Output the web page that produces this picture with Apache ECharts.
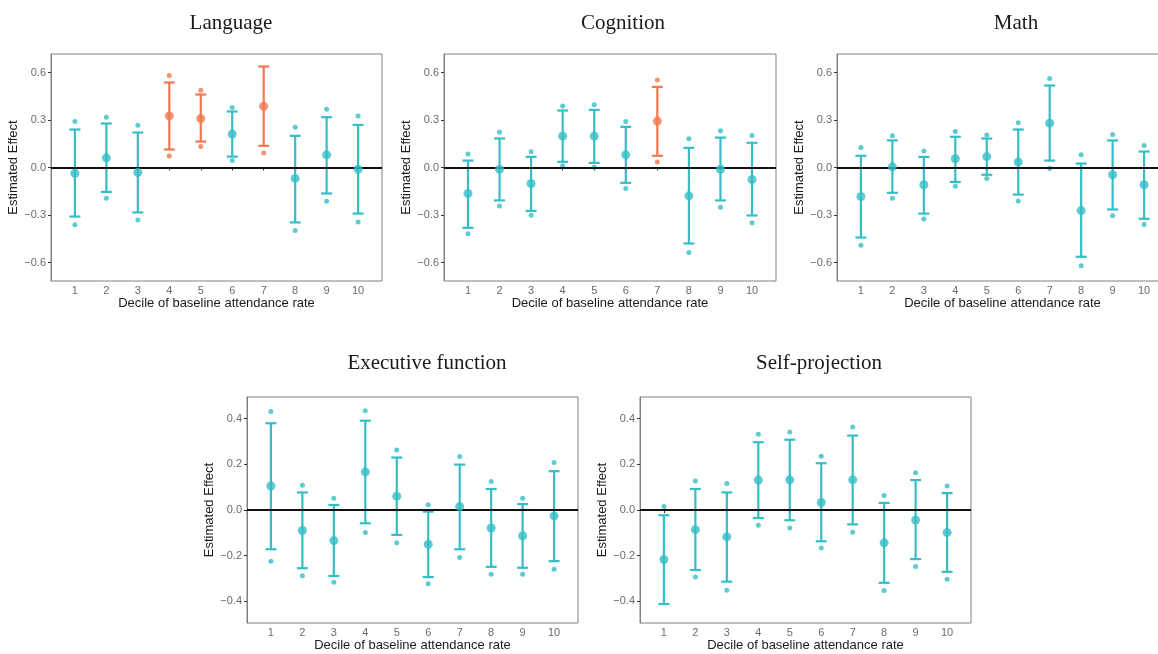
<!DOCTYPE html>
<html>
<head>
    <meta charset="utf-8">
    <title>Estimated effect by decile</title>
    <style>
        html, body { margin: 0; padding: 0; background: #fff; }
        #main { width: 1158px; height: 654px; }
    </style>
</head>
<body>
    <div id="main"></div>
    <script src="https://cdn.jsdelivr.net/npm/echarts@6/dist/echarts.min.js"></script>
    <script type="text/javascript">

        const DECILES = [1, 2, 3, 4, 5, 6, 7, 8, 9, 10];
        const TITLES = ['Language', 'Cognition', 'Math', 'Executive function', 'Self-projection'];
        const Y_TICKS_TOP = [-0.6, -0.3, 0, 0.3, 0.6];
        const Y_TICKS_BOTTOM = [-0.4, -0.2, 0, 0.2, 0.4];

        // point estimates
        const EST_LANGUAGE = [-0.036, 0.061, -0.032, 0.326, 0.309, 0.211, 0.387, -0.069, 0.080, -0.011];
        const EST_COGNITION = [-0.164, -0.011, -0.101, 0.198, 0.198, 0.080, 0.293, -0.179, -0.011, -0.076];
        const EST_MATH = [-0.183, 0.004, -0.109, 0.055, 0.069, 0.034, 0.280, -0.272, -0.046, -0.109];
        const EST_EXEC = [0.105, -0.090, -0.134, 0.167, 0.060, -0.150, 0.015, -0.079, -0.113, -0.026];
        const EST_SELF = [-0.217, -0.086, -0.118, 0.131, 0.132, 0.033, 0.132, -0.144, -0.044, -0.099];

        // error bar ends (lower, upper)
        const LO_LANGUAGE = [-0.310, -0.154, -0.284, 0.114, 0.164, 0.069, 0.137, -0.347, -0.164, -0.291];
        const HI_LANGUAGE = [0.240, 0.278, 0.221, 0.537, 0.461, 0.354, 0.638, 0.200, 0.318, 0.269];
        const LO_COGNITION = [-0.381, -0.208, -0.274, 0.036, 0.029, -0.097, 0.074, -0.480, -0.208, -0.303];
        const HI_COGNITION = [0.044, 0.183, 0.067, 0.360, 0.364, 0.257, 0.509, 0.124, 0.189, 0.156];
        const LO_MATH = [-0.442, -0.160, -0.291, -0.091, -0.046, -0.171, 0.044, -0.564, -0.265, -0.324];
        const HI_MATH = [0.074, 0.171, 0.067, 0.194, 0.183, 0.240, 0.518, 0.025, 0.171, 0.101];
        const LO_EXEC = [-0.172, -0.255, -0.289, -0.058, -0.109, -0.294, -0.172, -0.249, -0.253, -0.224];
        const HI_EXEC = [0.380, 0.077, 0.022, 0.391, 0.230, -0.007, 0.199, 0.092, 0.026, 0.170];
        const LO_SELF = [-0.412, -0.263, -0.314, -0.035, -0.045, -0.137, -0.063, -0.319, -0.215, -0.271];
        const HI_SELF = [-0.023, 0.092, 0.077, 0.297, 0.308, 0.205, 0.326, 0.031, 0.131, 0.074];

        // small outer dots (lower, upper); null where no dot is drawn
        const DLO_LANGUAGE = [-0.362, -0.194, -0.331, 0.072, 0.133, 0.044, 0.091, -0.398, -0.213, -0.345];
        const DHI_LANGUAGE = [0.290, 0.318, 0.267, 0.581, 0.488, 0.379, null, 0.255, 0.368, 0.326];
        const DLO_COGNITION = [-0.419, -0.244, -0.301, 0.011, 0.002, -0.133, 0.034, -0.537, -0.251, -0.349];
        const DHI_COGNITION = [0.086, 0.223, 0.099, 0.389, 0.396, 0.291, 0.552, 0.181, 0.232, 0.202];
        const DLO_MATH = [-0.491, -0.194, -0.326, -0.118, -0.069, -0.211, -0.004, -0.621, -0.305, -0.360];
        const DHI_MATH = [0.126, 0.200, 0.105, 0.227, 0.206, 0.282, 0.562, 0.080, 0.208, 0.139];
        const DLO_EXEC = [-0.224, -0.288, -0.316, -0.099, -0.144, -0.323, -0.208, -0.281, -0.281, -0.260];
        const DHI_EXEC = [0.432, 0.108, 0.051, 0.435, 0.263, 0.023, 0.234, 0.125, 0.052, 0.208];
        const DLO_SELF = [null, -0.294, -0.352, -0.067, -0.079, -0.167, -0.097, -0.353, -0.247, -0.303];
        const DHI_SELF = [0.015, 0.127, 0.116, 0.332, 0.342, 0.236, 0.364, 0.064, 0.163, 0.105];

        // deciles drawn in orange
        const HL_LANGUAGE = [4, 5, 7];
        const HL_COGNITION = [7];
        const HL_MATH = [];
        const HL_EXEC = [];
        const HL_SELF = [];

        const TEAL = '#35BEC5';
        const ORANGE = '#F1784F';

        const PANELS = [
            {est: EST_LANGUAGE, lo: LO_LANGUAGE, hi: HI_LANGUAGE, dlo: DLO_LANGUAGE, dhi: DHI_LANGUAGE, hl: HL_LANGUAGE,
             left: 51, top: 54, width: 331, height: 227, ymax: 0.717, ticks: Y_TICKS_TOP, tx: 226, ty: 8},
            {est: EST_COGNITION, lo: LO_COGNITION, hi: HI_COGNITION, dlo: DLO_COGNITION, dhi: DHI_COGNITION, hl: HL_COGNITION,
             left: 444, top: 54, width: 332, height: 227, ymax: 0.717, ticks: Y_TICKS_TOP, tx: 618, ty: 8},
            {est: EST_MATH, lo: LO_MATH, hi: HI_MATH, dlo: DLO_MATH, dhi: DHI_MATH, hl: HL_MATH,
             left: 837, top: 54, width: 331, height: 227, ymax: 0.717, ticks: Y_TICKS_TOP, tx: 1011, ty: 8},
            {est: EST_EXEC, lo: LO_EXEC, hi: HI_EXEC, dlo: DLO_EXEC, dhi: DHI_EXEC, hl: HL_EXEC,
             left: 247, top: 397, width: 331, height: 226, ymax: 0.495, ticks: Y_TICKS_BOTTOM, tx: 422, ty: 348},
            {est: EST_SELF, lo: LO_SELF, hi: HI_SELF, dlo: DLO_SELF, dhi: DHI_SELF, hl: HL_SELF,
             left: 640, top: 397, width: 331, height: 226, ymax: 0.495, ticks: Y_TICKS_BOTTOM, tx: 814, ty: 348},
        ];

        function fmtTick(v) {
            const s = Math.abs(v).toFixed(1);
            return v < 0 ? '\u2212' + s : s;
        }

        function renderBar(params, api) {
            const x = api.value(0);
            const a = api.coord([x, api.value(1)]);
            const b = api.coord([x, api.value(2)]);
            const color = api.value(3) ? ORANGE : TEAL;
            const half = 5.5;
            const st = {stroke: color, lineWidth: 2.2};
            return {
                type: 'group',
                children: [
                    {type: 'line', shape: {x1: a[0], y1: a[1], x2: b[0], y2: b[1]}, style: st},
                    {type: 'line', shape: {x1: a[0] - half, y1: a[1], x2: a[0] + half, y2: a[1]}, style: st},
                    {type: 'line', shape: {x1: b[0] - half, y1: b[1], x2: b[0] + half, y2: b[1]}, style: st},
                ]
            };
        }

        const grids = [], xAxes = [], yAxes = [], series = [], titles = [];
        const FONT = 'Liberation Sans';

        PANELS.forEach(function (p, i) {
            grids.push({
                left: p.left, top: p.top, width: p.width, height: p.height,
                outerBoundsMode: 'none', containLabel: false,
                show: true, borderColor: '#808080', borderWidth: 1, backgroundColor: 'transparent'
            });
            xAxes.push({
                gridIndex: i, type: 'value', min: 0.24, max: 10.76,
                name: 'Decile of baseline attendance rate', nameLocation: 'middle', nameGap: 16,
                nameTextStyle: {fontFamily: FONT, fontSize: 13, color: '#1a1a1a'},
                axisLine: {show: true, lineStyle: {color: '#808080'}},
                axisTick: {show: true, length: 3, customValues: DECILES, lineStyle: {color: '#333'}},
                axisLabel: {customValues: DECILES, margin: 4, fontFamily: FONT, fontSize: 11, color: '#6b6b6b'},
                splitLine: {show: false}
            });
            yAxes.push({
                gridIndex: i, type: 'value', min: -p.ymax, max: p.ymax,
                name: 'Estimated Effect', nameLocation: 'middle', nameGap: 28, nameRotate: 90,
                nameTextStyle: {fontFamily: FONT, fontSize: 13, color: '#1a1a1a'},
                axisLine: {show: true, lineStyle: {color: '#808080'}},
                axisTick: {show: true, length: 3, customValues: p.ticks, lineStyle: {color: '#333'}},
                axisLabel: {customValues: p.ticks, formatter: fmtTick, margin: 5, fontFamily: FONT, fontSize: 11, color: '#6b6b6b'},
                splitLine: {show: false}
            });
            titles.push({
                text: TITLES[i], left: p.tx, top: p.ty, textAlign: 'center',
                textStyle: {fontFamily: 'Liberation Serif', fontWeight: 'normal', fontSize: 21, color: '#1a1a1a'}
            });

            const bars = [], points = [], dots = [];
            DECILES.forEach(function (d, k) {
                const hl = p.hl.includes(d);
                const c = hl ? ORANGE : TEAL;
                bars.push([d, p.lo[k], p.hi[k], hl ? 1 : 0]);
                points.push({value: [d, p.est[k]], itemStyle: {color: c}});
                if (p.dlo[k] !== null) dots.push({value: [d, p.dlo[k]], itemStyle: {color: c}});
                if (p.dhi[k] !== null) dots.push({value: [d, p.dhi[k]], itemStyle: {color: c}});
            });

            series.push({
                type: 'custom', xAxisIndex: i, yAxisIndex: i, renderItem: renderBar,
                data: bars, silent: true, z: 3,
                markLine: {
                    silent: true, symbol: ['none', 'none'], label: {show: false},
                    lineStyle: {color: '#111', width: 2, type: 'solid'},
                    data: [{yAxis: 0}]
                }
            });
            series.push({
                type: 'scatter', xAxisIndex: i, yAxisIndex: i, symbolSize: 5,
                data: dots, silent: true, z: 4
            });
            series.push({
                type: 'scatter', xAxisIndex: i, yAxisIndex: i, symbolSize: 9,
                data: points, silent: true, z: 5
            });
        });

        const myChart = echarts.init(document.getElementById('main'));
        myChart.setOption({
            animation: false,
            backgroundColor: '#fff',
            title: titles,
            grid: grids,
            xAxis: xAxes,
            yAxis: yAxes,
            series: series
        });

    </script>
</body>
</html>
